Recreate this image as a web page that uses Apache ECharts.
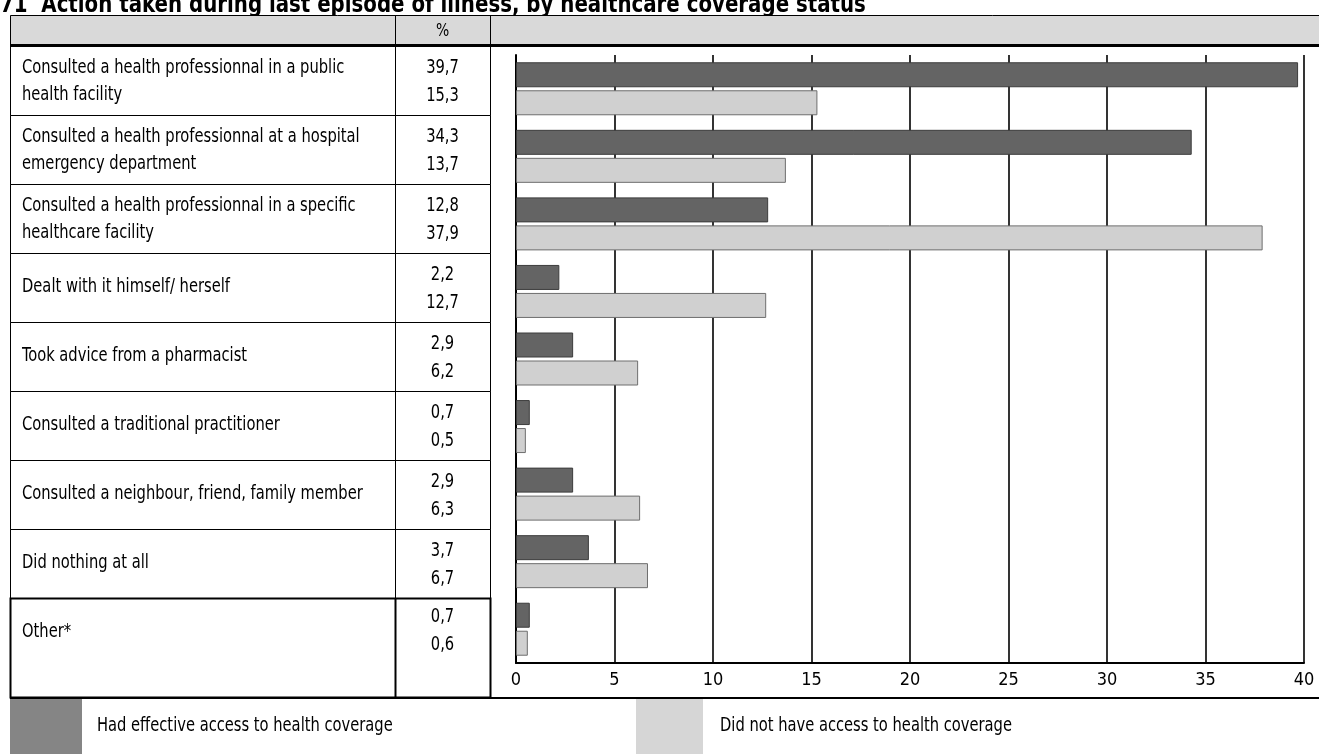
<!DOCTYPE html>
<html>
<head>
<meta charset="utf-8">
<script src="https://cdn.jsdelivr.net/npm/echarts@6/dist/echarts.min.js"></script>
<style>
html,body{margin:0;padding:0;background:#fff;}
#main{width:1319px;height:754px;}
</style>
</head>
<body>
<div id="main"></div>
<script>
// ---------- DATA ----------
const titleText = '71  Action taken during last episode of illness, by healthcare coverage status';
const categories = [
  'Consulted a health professionnal in a public\nhealth facility',
  'Consulted a health professionnal at a hospital\nemergency department',
  'Consulted a health professionnal in a specific\nhealthcare facility',
  'Dealt with it himself/ herself',
  'Took advice from a pharmacist',
  'Consulted a traditional practitioner',
  'Consulted a neighbour, friend, family member',
  'Did nothing at all',
  'Other*'
];
const seriesNames = ['Had effective access to health coverage', 'Did not have access to health coverage'];
const covered    = [39.7, 34.3, 12.8, 2.2, 2.9, 0.7, 2.9, 3.7, 0.7];
const notCovered = [15.3, 13.7, 37.9, 12.7, 6.2, 0.5, 6.3, 6.7, 0.6];
const percentHeader = '%';
const axisMin = 0, axisMax = 40, axisInterval = 5;

// ---------- LAYOUT ----------
const FONT = "'Liberation Sans Narrow', 'DejaVu Sans Condensed', sans-serif";
const TL = 10, C1 = 395, C2 = 490, R = 1319;
const HT = 15, HB = 45;
const ROW0 = 46, ROWH = 69;
const LAST_BOTTOM = 697;
const SX = 0.86;            // horizontal squeeze to mimic a condensed face
const TXT = "19px " + FONT;
const fmt = v => v.toFixed(1).replace('.', ',');

const g = [];
// title (partly cut off at the top, as in the reference)
g.push({type:'text', x:0, y:18, scaleX:0.88, style:{text:titleText, font:"bold 25px " + FONT, fill:'#000', textVerticalAlign:'bottom'}});
// header
g.push({type:'rect', shape:{x:TL+0.5, y:HT+0.5, width:R-TL, height:HB-HT}, style:{fill:'#d9d9d9', stroke:'#000', lineWidth:1}});
g.push({type:'line', shape:{x1:C1+0.5, y1:HT, x2:C1+0.5, y2:HB}, style:{stroke:'#000', lineWidth:1}});
g.push({type:'line', shape:{x1:C2+0.5, y1:HT, x2:C2+0.5, y2:HB}, style:{stroke:'#000', lineWidth:1}});
g.push({type:'text', x:(C1+C2)/2, y:31, scaleX:SX, style:{text:percentHeader, font:"18px " + FONT, fill:'#000', textAlign:'center', textVerticalAlign:'middle'}});

const n = categories.length;
for (let i = 0; i < n; i++) {
  const last = i === n - 1;
  const top = ROW0 + i * ROWH;
  const bottom = last ? LAST_BOTTOM : top + ROWH;
  const lw = last ? 2 : 1;
  g.push({type:'rect', shape:{x:TL+0.5, y:top+0.5, width:C2-TL, height:bottom-top}, style:{fill:'none', stroke:'#000', lineWidth:lw}});
  g.push({type:'line', shape:{x1:C1+0.5, y1:top, x2:C1+0.5, y2:bottom}, style:{stroke:'#000', lineWidth:lw}});
  const cy = last ? top + 34 : top + (categories[i].indexOf('\n') >= 0 ? 36 : 34);
  g.push({type:'text', x:22, y:cy, scaleX:SX, style:{text:categories[i], font:TXT, fill:'#000', textVerticalAlign:'middle', lineHeight:27}});
  g.push({type:'text', x:(C1+C2)/2, y:(last ? top + 33 : top + 36), scaleX:SX, style:{text:fmt(covered[i]) + '\n' + fmt(notCovered[i]), font:TXT, fill:'#000', textAlign:'center', textVerticalAlign:'middle', lineHeight:28}});
}
// thick header underline
g.push({type:'line', shape:{x1:TL, y1:45.5, x2:R, y2:45.5}, style:{stroke:'#000', lineWidth:3}});
// bottom line of table
g.push({type:'line', shape:{x1:TL, y1:LAST_BOTTOM+1, x2:R, y2:LAST_BOTTOM+1}, style:{stroke:'#000', lineWidth:2}});
// legend
g.push({type:'rect', shape:{x:TL, y:LAST_BOTTOM+2, width:72, height:754-LAST_BOTTOM-2}, style:{fill:'#858585'}});
g.push({type:'text', x:97, y:726, scaleX:SX, style:{text:seriesNames[0], font:TXT, fill:'#000', textVerticalAlign:'middle'}});
g.push({type:'rect', shape:{x:636, y:LAST_BOTTOM+2, width:67, height:754-LAST_BOTTOM-2}, style:{fill:'#d6d6d6'}});
g.push({type:'text', x:720, y:726, scaleX:SX, style:{text:seriesNames[1], font:TXT, fill:'#000', textVerticalAlign:'middle'}});

const chart = echarts.init(document.getElementById('main'), null, {renderer:'canvas'});
chart.setOption({
  animation:false,
  backgroundColor:'#fff',
  grid:{left:516, right:15, top:55, bottom:91, containLabel:false},
  xAxis:{
    type:'value', min:axisMin, max:axisMax, interval:axisInterval,
    axisLine:{show:true, lineStyle:{color:'#000', width:2}},
    axisTick:{show:false},
    splitLine:{show:true, lineStyle:{color:'#000', width:1.6}},
    axisLabel:{color:'#000', fontFamily:FONT, fontSize:18, margin:8}
  },
  yAxis:{
    type:'category', data:categories, inverse:true,
    axisLine:{show:true, lineStyle:{color:'#000', width:2}},
    axisTick:{show:false}, axisLabel:{show:false}, splitLine:{show:false}
  },
  series:[
    {name:seriesNames[0], type:'bar', data:covered, barWidth:25, barGap:'12%',
     itemStyle:{color:'#646464', borderColor:'#3c3c3c', borderWidth:1}},
    {name:seriesNames[1], type:'bar', data:notCovered, barWidth:25,
     itemStyle:{color:'#d0d0d0', borderColor:'#6e6e6e', borderWidth:1}}
  ],
  graphic:{elements:g}
});
</script>
</body>
</html>
